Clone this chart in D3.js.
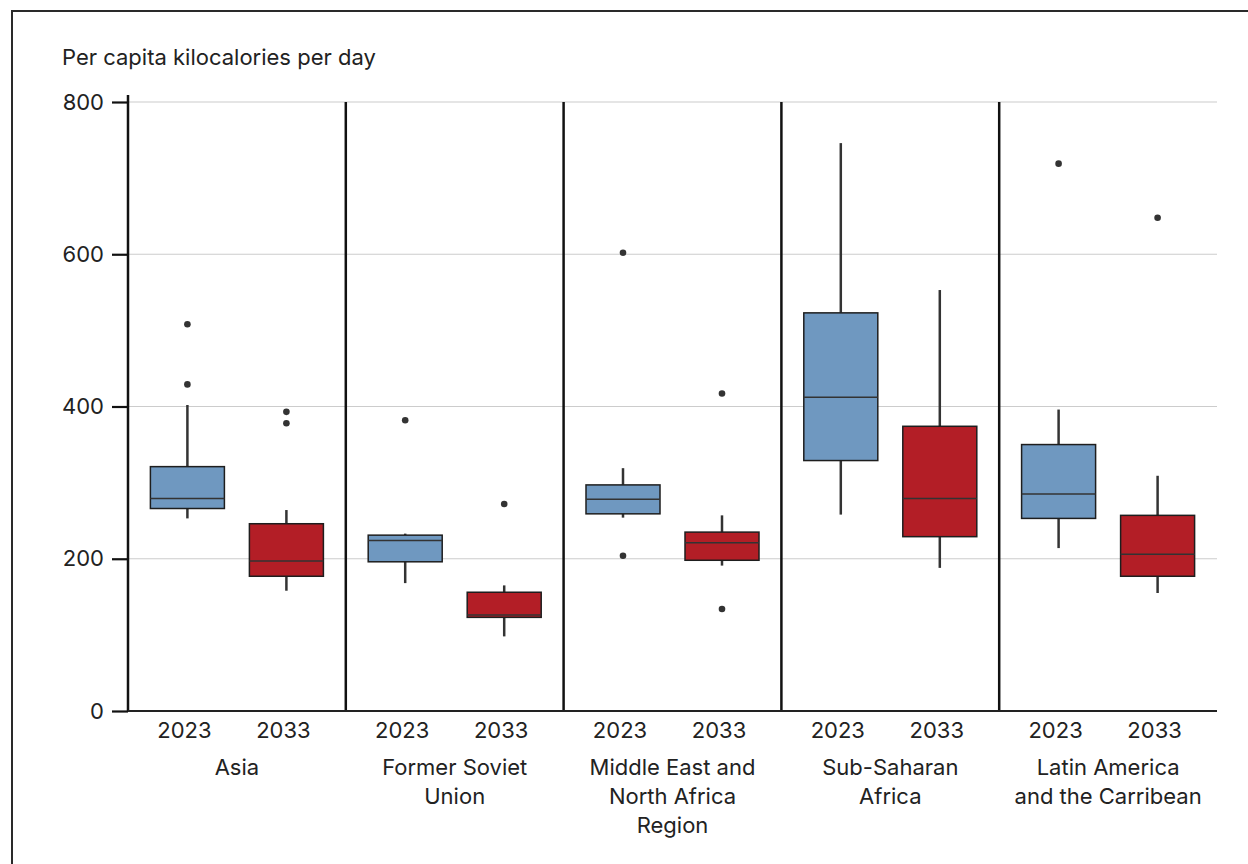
<!DOCTYPE html>
<html>
<head>
<meta charset="utf-8">
<script src="https://cdn.jsdelivr.net/npm/d3@7"></script>
<style>
  html, body { margin: 0; padding: 0; background: #fff; }
  svg { display: block; font-family: Inter, Roboto, "Noto Sans", sans-serif; }
</style>
</head>
<body>
<svg id="chart" width="1248" height="864"></svg>
<script>
// Regions (panel labels, split on line breaks) and the two projection years
const regions = ["Asia", "Former Soviet\nUnion", "Middle East and\nNorth Africa\nRegion", "Sub-Saharan\nAfrica", "Latin America\nand the Carribean"];
const years = ["2023", "2033"];
const yTicks = [0, 200, 400, 600, 800];

// Box statistics per region: [lowWhisker, q1, median, q3, highWhisker]
const stats2023 = [
  [253, 266, 279, 321, 402],
  [168, 196, 224, 231, 233],
  [254, 259, 278, 297, 319],
  [258, 329, 412, 523, 746],
  [214, 253, 285, 350, 396]
];
const stats2033 = [
  [158, 177, 197, 246, 264],
  [98, 123, 126, 156, 165],
  [191, 198, 221, 235, 257],
  [188, 229, 279, 374, 553],
  [155, 177, 206, 257, 309]
];
// Outlying countries per region
const outliers2023 = [[429, 508], [382], [204, 602], [], [719]];
const outliers2033 = [[378, 393], [272], [134, 417], [], [648]];

const colors = { "2023": "#6f98c0", "2033": "#b31e26" };
const FONT = 22;

const svg = d3.select("#chart");
const margin = { left: 128, right: 31, top: 102, bottom: 153 };
const W = 1248, H = 864;

// Outer frame
svg.append("rect")
  .attr("x", 12).attr("y", 11).attr("width", 1300).attr("height", 900)
  .attr("fill", "none").attr("stroke", "#2a2a2a").attr("stroke-width", 2);

const x = d3.scaleBand().domain(regions).range([margin.left, W - margin.right]).padding(0);
const xi = d3.scalePoint().domain(years).range([0, x.bandwidth()]).padding(0.6);
const y = d3.scaleLinear().domain([0, 800]).range([H - margin.bottom, margin.top]);
const boxW = 74;

// Gridlines
svg.append("g").selectAll("line").data(yTicks.filter(t => t > 0)).join("line")
  .attr("x1", margin.left).attr("x2", W - margin.right)
  .attr("y1", d => y(d)).attr("y2", d => y(d))
  .attr("stroke", "#cccccc").attr("stroke-width", 1.2);

// Y axis
const yAxis = svg.append("g").attr("transform", `translate(${margin.left},0)`)
  .call(d3.axisLeft(y).tickValues(yTicks).tickSize(16).tickPadding(8).tickFormat(d3.format("d")));
yAxis.select(".domain").remove();
yAxis.selectAll(".tick line").attr("stroke", "#111").attr("stroke-width", 2.2);
yAxis.selectAll(".tick text").attr("font-size", FONT).attr("fill", "#222")
  .attr("font-family", "Inter, Roboto, sans-serif");
svg.append("line").attr("x1", margin.left).attr("x2", margin.left)
  .attr("y1", y(800) - 7).attr("y2", y(0) + 1)
  .attr("stroke", "#111").attr("stroke-width", 2.5);

// Panel separators
svg.append("g").selectAll("line").data(regions.slice(1)).join("line")
  .attr("x1", d => x(d)).attr("x2", d => x(d))
  .attr("y1", y(800)).attr("y2", y(0))
  .attr("stroke", "#111").attr("stroke-width", 2.5);

// Bottom axis line
svg.append("line").attr("x1", margin.left).attr("x2", W - margin.right)
  .attr("y1", y(0)).attr("y2", y(0))
  .attr("stroke", "#222").attr("stroke-width", 2.2);

// Y axis title
svg.append("text").attr("x", 62).attr("y", 65)
  .attr("font-size", FONT).attr("fill", "#222")
  .text("Per capita kilocalories per day");

// Boxes
const series = [
  { year: "2023", stats: stats2023, outliers: outliers2023 },
  { year: "2033", stats: stats2033, outliers: outliers2033 }
];

series.forEach(s => {
  regions.forEach((r, i) => {
    const [lo, q1, med, q3, hi] = s.stats[i];
    const cx = x(r) + xi(s.year);
    const g = svg.append("g");
    g.append("line").attr("x1", cx).attr("x2", cx).attr("y1", y(hi)).attr("y2", y(q3))
      .attr("stroke", "#333").attr("stroke-width", 2.5);
    g.append("line").attr("x1", cx).attr("x2", cx).attr("y1", y(q1)).attr("y2", y(lo))
      .attr("stroke", "#333").attr("stroke-width", 2.5);
    g.append("rect").attr("x", cx - boxW / 2).attr("width", boxW)
      .attr("y", y(q3)).attr("height", y(q1) - y(q3))
      .attr("fill", colors[s.year]).attr("stroke", "#1e1e1e").attr("stroke-width", 1.5);
    g.append("line").attr("x1", cx - boxW / 2).attr("x2", cx + boxW / 2)
      .attr("y1", y(med)).attr("y2", y(med))
      .attr("stroke", "#333").attr("stroke-width", 1.5);
    g.selectAll("circle").data(s.outliers[i]).join("circle")
      .attr("cx", cx).attr("cy", d => y(d)).attr("r", 3.3).attr("fill", "#333");

    // Year label
    svg.append("text").attr("x", cx - 3).attr("y", y(0) + 27)
      .attr("text-anchor", "middle").attr("font-size", FONT).attr("fill", "#222")
      .text(s.year);
  });
});

// Region labels
regions.forEach(r => {
  const cx = x(r) + x.bandwidth() / 2;
  const t = svg.append("text").attr("text-anchor", "middle").attr("font-size", FONT).attr("fill", "#222");
  r.split("\n").forEach((line, k) => {
    t.append("tspan").attr("x", cx).attr("y", y(0) + 64 + k * 29).text(line);
  });
});
</script>
</body>
</html>
